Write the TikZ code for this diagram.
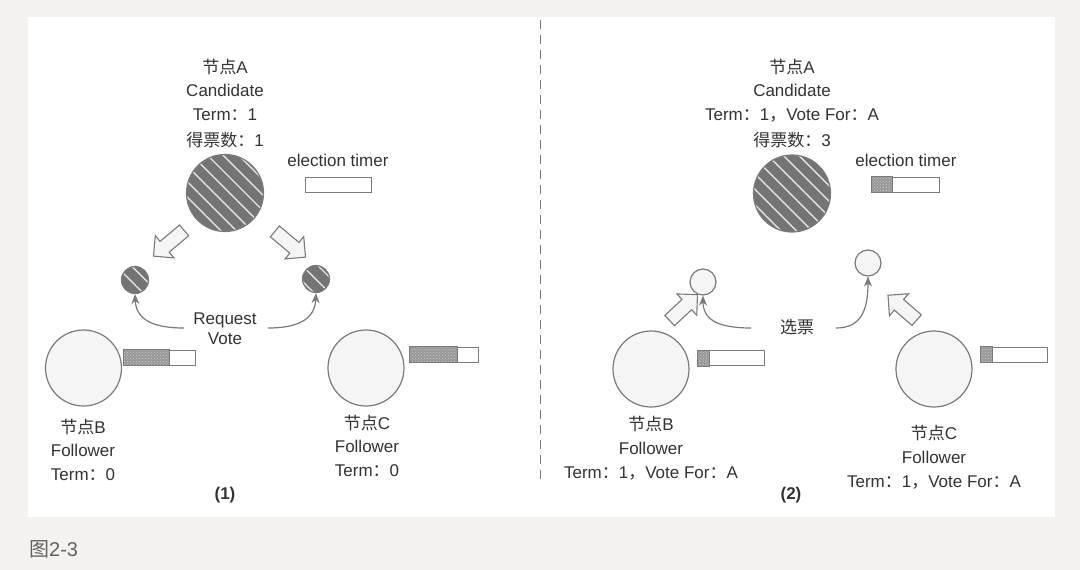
\documentclass[tikz,border=0pt]{standalone}
\usepackage{fontspec}
\setmainfont{Liberation Sans}
\newfontfamily\cjk{Noto Sans CJK SC}
\usetikzlibrary{patterns,patterns.meta,shapes.arrows,calc,arrows.meta}
\newcommand\zh[1]{{\cjk #1}}
\definecolor{bg}{HTML}{F4F2EE}
\definecolor{txt}{HTML}{333333}
\definecolor{edge}{HTML}{7A7A7A}
\definecolor{hatch}{HTML}{747474}
\definecolor{light}{HTML}{F5F5F5}
\definecolor{dotbg}{HTML}{989898}
\definecolor{dotfg}{HTML}{C8C8C8}
\begin{document}
\begin{tikzpicture}[x=1pt,y=1pt,
  lbl/.style={font=\fontsize{17}{24}\selectfont, text=txt, inner sep=0, anchor=base},
  bold/.style={lbl, font=\fontsize{17}{24}\selectfont\bfseries},
  follower/.style={circle, draw=edge, line width=1.2pt, fill=light, minimum size=76pt, inner sep=0},
  vote/.style={circle, draw=edge, line width=1.2pt, fill=light, minimum size=26pt, inner sep=0},
  hatched/.style={circle, draw=edge, line width=1.2pt, inner sep=0,
     preaction={fill=hatch},
     pattern={Lines[angle=-45,distance=11pt,line width=1.4pt]}, pattern color=white!80!hatch},
  cand/.style={hatched, minimum size=77pt},
  smallcand/.style={hatched, minimum size=27pt},
  timer/.style={rectangle, draw=edge, line width=1pt, fill=white, minimum height=15pt, inner sep=0},
  tfill/.style={draw=edge, line width=1pt, preaction={fill=dotbg}, pattern=crosshatch dots, pattern color=dotfg},
  barrow/.style={single arrow, draw=edge, line width=1.1pt, fill=light, inner sep=6.5pt,
     minimum height=40pt, single arrow head extend=7.5pt, single arrow tip angle=90},
  curve/.style={draw=edge, line width=1.2pt, -{Stealth[length=10pt,width=8pt]}},
]
% background and panel
\fill[bg] (0,0) rectangle (1080,-570);
\fill[white] (28,-17) rectangle (1055,-517);
\useasboundingbox (0,0) rectangle (1080,-570);

% divider
\coordinate (dtop) at (540,-20);
\coordinate (dbot) at (540,-482);
\draw[edge, line width=1pt, dash pattern=on 9pt off 6pt] (dtop) -- (dbot);

% ================= panel (1) =================
\node[lbl] (a1l1) at (225,-73) {\zh{节点}A};
\node[lbl] (a1l2) at (225,-96) {Candidate};
\node[lbl] (a1l3) at (225,-120) {Term\zh{：}1};
\node[lbl] (a1l4) at (225,-146) {\zh{得票数：}1};
\node[cand] (A1) at (225,-193) {};
\node[lbl] (et1) at (338,-166) {election timer};
\node[timer, minimum width=66pt] (tA1) at (338,-184.5) {};

\node[barrow, rotate=220] (ba1) at (171.5,-241) {};
\node[barrow, rotate=-40] (ba2) at (287.5,-242) {};

\node[smallcand] (s1) at (135,-280) {};
\node[smallcand] (s2) at (316,-279) {};

\node[lbl] (rq1) at (225,-324) {Request};
\node[lbl] (rq2) at (225,-344) {Vote};
\coordinate (rqL) at (184,-328);
\coordinate (rqR) at (268,-328);
\draw[curve] (rqL) .. controls (150,-328) and (136,-318) .. (s1.south);
\draw[curve] (rqR) .. controls (300,-328) and (315,-318) .. (s2.south);

\node[follower] (B1) at (83.5,-368) {};
\node[timer, minimum width=71pt] (tB1) at (159.5,-357.5) {};
\path[tfill] (tB1.north west) rectangle ($(tB1.south west)+(46,0)$);
\node[lbl] (b1l1) at (83,-433) {\zh{节点}B};
\node[lbl] (b1l2) at (83,-456) {Follower};
\node[lbl] (b1l3) at (83,-480) {Term\zh{：}0};

\node[follower] (C1) at (366,-368) {};
\node[timer, minimum width=68pt] (tC1) at (444,-354.5) {};
\path[tfill] (tC1.north west) rectangle ($(tC1.south west)+(48,0)$);
\node[lbl] (c1l1) at (367,-429) {\zh{节点}C};
\node[lbl] (c1l2) at (367,-452) {Follower};
\node[lbl] (c1l3) at (367,-476) {Term\zh{：}0};

\node[bold] (p1) at (225,-499) {(1)};

% ================= panel (2) =================
\node[lbl] (a2l1) at (792,-73) {\zh{节点}A};
\node[lbl] (a2l2) at (792,-96) {Candidate};
\node[lbl] (a2l3) at (792,-120) {Term\zh{：}1\zh{，}Vote For\zh{：}A};
\node[lbl] (a2l4) at (792,-146) {\zh{得票数：}3};
\node[cand] (A2) at (792,-193.5) {};
\node[lbl] (et2) at (906,-166) {election timer};
\node[timer, minimum width=67pt] (tA2) at (905.5,-184.5) {};
\path[tfill] (tA2.north west) rectangle ($(tA2.south west)+(21,0)$);

\node[vote] (v1) at (703,-282) {};
\node[vote] (v2) at (868,-263) {};

\node[barrow, minimum height=38pt, rotate=43] (bb1) at (681,-310) {};
\node[barrow, minimum height=38pt, rotate=139] (bb2) at (905,-310) {};

\node[lbl] (xp) at (797,-333) {\zh{选票}};
\coordinate (xpL) at (751,-328);
\coordinate (xpR) at (836,-328);
\draw[curve] (xpL) .. controls (715,-328) and (703,-318) .. (v1.south);
\draw[curve] (xpR) .. controls (860,-328) and (868,-312) .. (v2.south);

\node[follower] (B2) at (651,-369) {};
\node[timer, minimum width=66pt] (tB2) at (731,-358) {};
\path[tfill] (tB2.north west) rectangle ($(tB2.south west)+(12,0)$);
\node[lbl] (b2l1) at (651,-430) {\zh{节点}B};
\node[lbl] (b2l2) at (651,-454) {Follower};
\node[lbl] (b2l3) at (651,-478) {Term\zh{：}1\zh{，}Vote For\zh{：}A};

\node[follower] (C2) at (934,-369) {};
\node[timer, minimum width=66pt] (tC2) at (1014,-354.5) {};
\path[tfill] (tC2.north west) rectangle ($(tC2.south west)+(12,0)$);
\node[lbl] (c2l1) at (934,-439) {\zh{节点}C};
\node[lbl] (c2l2) at (934,-463) {Follower};
\node[lbl] (c2l3) at (934,-487) {Term\zh{：}1\zh{，}Vote For\zh{：}A};

\node[bold] (p2) at (791,-499) {(2)};

% caption
\node[anchor=base west, inner sep=0, font=\fontsize{20}{24}\selectfont, text=black!62] (cap) at (29,-556) {\zh{图}2-3};
\end{tikzpicture}
\end{document}
